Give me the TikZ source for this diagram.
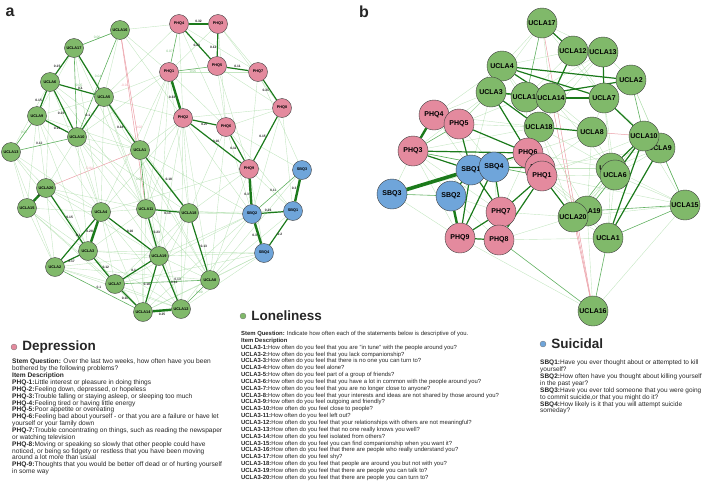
\documentclass[tikz,border=0pt]{standalone}
\usepackage{fontspec}
\setmainfont{Liberation Sans}
\usetikzlibrary{positioning}

\pgfdeclarelayer{edges}
\pgfsetlayers{edges,main}

\definecolor{deppink}{HTML}{E48A9E}
\definecolor{lonegreen}{HTML}{80B96A}
\definecolor{suiblue}{HTML}{6FA5DA}
\definecolor{edgedark}{HTML}{1B7A1B}
\definecolor{edgemid}{HTML}{45A345}
\definecolor{edgelight}{HTML}{9ED69A}
\definecolor{edgeneg}{HTML}{EBA0A8}

\tikzset{
  anode/.style={circle, draw=black!75, line width=0.4pt, minimum size=19pt, inner sep=0pt,
    font=\fontsize{3.8}{4}\selectfont\bfseries},
  bnode/.style={circle, draw=black!75, line width=0.4pt, minimum size=30pt, inner sep=0pt,
    font=\fontsize{7}{8}\selectfont\bfseries},
  dep/.style={fill=deppink},
  lone/.style={fill=lonegreen},
  sui/.style={fill=suiblue},
  faint/.style={draw=edgelight, line width=0.4pt, opacity=0.6},
  weak/.style={draw=edgemid, line width=0.6pt, opacity=0.85},
  strong/.style={draw=edgedark, line width=1.2pt},
  heavy/.style={draw=edgedark, line width=2.4pt},
  negative/.style={draw=edgeneg, line width=0.5pt},
  wlab/.style={font=\fontsize{3.3}{3.5}\selectfont\bfseries, text=black!85, inner sep=0.4pt},
  flab/.style={font=\fontsize{3.3}{3.5}\selectfont, text=edgemid!80, inner sep=0.4pt},
  nlab/.style={font=\fontsize{3.3}{3.5}\selectfont, text=edgeneg, inner sep=0.4pt},
  panel/.style={font=\fontsize{16}{18}\selectfont\bfseries, text=black!85},
  legdot/.style={circle, draw=black!55, line width=0.3pt, minimum size=6pt, inner sep=0pt},
  leghead/.style={font=\fontsize{13.5}{15}\selectfont\bfseries, anchor=west, inner sep=0pt, text=black!85},
  legtext/.style={font=\fontsize{#1}{6.85}\selectfont, anchor=north west, inner sep=0pt,
    align=left, text=black!85},
}
\newcommand{\itm}[1]{\textbf{#1}}

\begin{document}
\begin{tikzpicture}[x=1pt, y=-1pt]
\useasboundingbox (0,0) rectangle (706,482);

% panel labels
\node[panel] (pa) at (10,12) {a};
\node[panel] (pb) at (364,12) {b};

% ---- panel a: nodes
\node[anode, lone] (aU17) at (74,48)  {UCLA17};
\node[anode, lone] (aU16) at (120,30) {UCLA16};
\node[anode, lone] (aU6)  at (50,82)  {UCLA6};
\node[anode, lone] (aU5)  at (104,97) {UCLA5};
\node[anode, lone] (aU9)  at (37,116) {UCLA9};
\node[anode, lone] (aU10) at (77,137) {UCLA10};
\node[anode, lone] (aU13) at (11,152) {UCLA13};
\node[anode, lone] (aU20) at (46,188) {UCLA20};
\node[anode, lone] (aU15) at (27,208) {UCLA15};
\node[anode, lone] (aU1)  at (140,150) {UCLA1};
\node[anode, lone] (aU4)  at (101,212) {UCLA4};
\node[anode, lone] (aU11) at (146,209) {UCLA11};
\node[anode, lone] (aU18) at (189,213) {UCLA18};
\node[anode, lone] (aU3)  at (88,251) {UCLA3};
\node[anode, lone] (aU2)  at (55,267) {UCLA2};
\node[anode, lone] (aU19) at (159,256) {UCLA19};
\node[anode, lone] (aU7)  at (115,284) {UCLA7};
\node[anode, lone] (aU8)  at (210,280) {UCLA8};
\node[anode, lone] (aU14) at (143,312) {UCLA14};
\node[anode, lone] (aU12) at (181,309) {UCLA12};

\node[anode, dep] (aP4) at (179,24)  {PHQ4};
\node[anode, dep] (aP3) at (218,24)  {PHQ3};
\node[anode, dep] (aP1) at (169,72)  {PHQ1};
\node[anode, dep] (aP5) at (217,66)  {PHQ5};
\node[anode, dep] (aP7) at (258,72)  {PHQ7};
\node[anode, dep] (aP2) at (183,118) {PHQ2};
\node[anode, dep] (aP6) at (226,127) {PHQ6};
\node[anode, dep] (aP8) at (282,108) {PHQ8};
\node[anode, dep] (aP9) at (249,169) {PHQ9};

\node[anode, sui] (aS3) at (302,170) {SBQ3};
\node[anode, sui] (aS2) at (252,214) {SBQ2};
\node[anode, sui] (aS1) at (293,211) {SBQ1};
\node[anode, sui] (aS4) at (264,253) {SBQ4};

% ---- panel a: edges
\begin{pgfonlayer}{edges}
\foreach \u/\v in {aP1/aU16, aP1/aU5, aP1/aU1, aP1/aU18, aP1/aU10, aP1/aP3, aP1/aP7,
  aP1/aP6, aP1/aU11, aP2/aU1, aP2/aU18, aP2/aU4, aP2/aU19, aP2/aP8, aP2/aS2, aP3/aP7,
  aP3/aP8, aP5/aP8, aP5/aP6, aP6/aP8, aP6/aS3, aP6/aS1, aP7/aS3, aP8/aS1, aP9/aS1,
  aP9/aU18, aP9/aU8, aP6/aU18, aP6/aU8, aP4/aU5, aP4/aP2, aP4/aP6, aU17/aU16, aU17/aU9,
  aU17/aU1, aU6/aU9, aU6/aU13, aU6/aU1, aU6/aU20, aU5/aU9, aU5/aU4, aU5/aU11, aU5/aU18,
  aU9/aU13, aU9/aU20, aU9/aU4, aU9/aU15, aU10/aU20, aU10/aU4, aU10/aU11, aU10/aU1,
  aU13/aU20, aU13/aU15, aU13/aU2, aU20/aU4, aU20/aU2, aU15/aU2, aU15/aU3, aU15/aU7,
  aU1/aU11, aU1/aU19, aU1/aU8, aU4/aU11, aU4/aU7, aU11/aU3, aU11/aU8, aU11/aU14,
  aU18/aU19, aU18/aU12, aU3/aU19, aU3/aU14, aU3/aU12, aU2/aU7, aU2/aU12, aU19/aU8,
  aU7/aU12, aU8/aU14, aU8/aS4, aU19/aS2, aU12/aS4, aU14/aS2, aU1/aS2, aU7/aS2, aU3/aS4,
  aU4/aP9, aU16/aP4, aU16/aP2, aU16/aU5, aU5/aP2, aU18/aS2, aU8/aS1, aU12/aS2,
  aU10/aU3, aU10/aU19, aU10/aU18, aU9/aU1, aU9/aU3, aU6/aU4, aU6/aU11, aU17/aU11,
  aU17/aU4, aU13/aU4, aU13/aU3, aU20/aU11, aU20/aU19, aU20/aU7, aU15/aU4, aU15/aU14,
  aU2/aU19, aU2/aU8, aU4/aU14, aU4/aU12, aU1/aU14, aU1/aU12, aU18/aU14, aU18/aU7,
  aU11/aU12, aU5/aU19, aU5/aU8, aP1/aU4, aP1/aU19, aP2/aU11, aP2/aU8, aP3/aP6,
  aP4/aP7, aP5/aP9, aP7/aP9, aP8/aS2, aP9/aS4, aP6/aS2, aP2/aU12, aU19/aS4, aU14/aS4,
  aU7/aS4, aU11/aS2, aU18/aS1, aU8/aS3}
  \draw[faint] (\u) -- (\v);

\draw[negative] (aU16) -- node[nlab, pos=0.45, left] {-0.01} (aU1);
\draw[negative] (aU16) -- node[nlab, pos=0.55, right] {-0.02} (aU11);
\draw[negative] (aU20) -- node[nlab, pos=0.45, above] {-0.04} (aU1);

\draw[weak] (aU17) -- node[flab, above] {0.06} (aU16);
\draw[weak] (aU16) -- node[flab, pos=0.4, below left] {0.04} (aU10);
\draw[weak] (aP1) -- node[flab, pos=0.4, left] {0.07} (aP4);
\draw[weak] (aP1) -- node[flab, pos=0.5, below] {0.05} (aP5);
\draw[weak] (aU17) -- node[flab, pos=0.4, right] {0.05} (aU10);
\draw[weak] (aU9) -- node[flab, pos=0.5, above] {0.07} (aU13);
\draw[weak] (aS2) -- node[wlab, pos=0.5, above left] {0.11} (aS3);
\draw[weak] (aU8) -- node[wlab, pos=0.3, above] {0.13} (aU7);
\draw[weak] (aU12) -- node[flab, pos=0.5, above right] {0.09} (aU8);
\draw[weak] (aU2) -- node[wlab, pos=0.5, above] {0.1} (aU14);
\draw[weak] (aU11) -- node[flab, pos=0.5, left] {0.09} (aU1);

\draw[heavy] (aP4) -- node[wlab, above] {0.32} (aP3);
\draw[heavy] (aP1) -- node[wlab, pos=0.6, left] {0.33} (aP2);
\draw[strong] (aP2) -- node[wlab, pos=0.5, below] {0.27} (aP6);
\draw[strong] (aP7) -- node[wlab, pos=0.5, left] {0.21} (aP8);
\draw[strong] (aP4) -- node[wlab, pos=0.45, below] {0.23} (aP5);
\draw[strong] (aP3) -- node[wlab, pos=0.6, left] {0.12} (aP5);
\draw[strong] (aP5) -- node[wlab, pos=0.5, above] {0.11} (aP7);
\draw[strong] (aP6) -- node[wlab, pos=0.5, left] {0.11} (aP9);
\draw[strong] (aP8) -- node[wlab, pos=0.45, left] {0.15} (aP9);
\draw[strong] (aP2) -- node[wlab, pos=0.5, above] {0.16} (aP9);
\draw[heavy] (aP9) -- node[wlab, pos=0.6, left] {0.3} (aS2);
\draw[heavy] (aS3) -- node[wlab, pos=0.4, left] {0.3} (aS1);
\draw[strong] (aS2) -- node[wlab, pos=0.3, above] {0.26} (aS1);
\draw[heavy] (aS2) -- node[wlab, pos=0.6, left] {0.3} (aS4);
\draw[strong] (aS1) -- node[wlab, pos=0.6, right] {0.2} (aS4);

\draw[strong] (aU17) -- node[wlab, pos=0.55, left] {0.15} (aU6);
\draw[strong] (aU17) -- (aU5);
\draw[strong] (aU6) -- node[wlab, pos=0.6, left] {0.15} (aU10);
\draw[strong] (aU6) -- node[wlab, pos=0.6, above] {0.1} (aU5);
\draw[strong] (aU9) -- node[wlab, pos=0.4, left] {0.15} (aU6);
\draw[strong] (aU5) -- node[wlab, pos=0.45, left] {0.1} (aU10);
\draw[strong] (aU9) -- node[wlab, pos=0.5, below] {0.11} (aU10);
\draw[weak] (aU13) -- node[wlab, pos=0.4, above] {0.12} (aU10);
\draw[strong] (aU5) -- node[wlab, pos=0.6, left] {0.18} (aU1);
\draw[heavy] (aU20) -- node[wlab, pos=0.5, above right] {0.4} (aU15);
\draw[strong] (aU20) -- node[wlab, pos=0.45, right] {0.15} (aU3);
\draw[heavy] (aU4) -- node[wlab, pos=0.5, left] {0.28} (aU3);
\draw[strong] (aU3) -- node[wlab, pos=0.5, below] {0.17} (aU2);
\draw[strong] (aU2) -- node[wlab, pos=0.6, left] {0.1} (aU4);
\draw[strong] (aU3) -- node[wlab, pos=0.5, right] {0.12} (aU7);
\draw[strong] (aU11) -- node[wlab, pos=0.5, below] {0.13} (aU18);
\draw[strong] (aU1) -- node[wlab, pos=0.5, above right] {0.18} (aU18);
\draw[strong] (aU18) -- node[wlab, pos=0.5, right] {0.13} (aU8);
\draw[strong] (aU4) -- node[wlab, pos=0.5, above] {0.16} (aU19);
\draw[strong] (aU11) -- node[wlab, pos=0.5, right] {0.23} (aU19);
\draw[strong] (aU19) -- node[wlab, pos=0.5, left] {0.18} (aU14);
\draw[strong] (aU19) -- node[wlab, pos=0.5, right] {0.13} (aU12);
\draw[strong] (aU7) -- node[wlab, pos=0.5, left] {0.1} (aU19);
\draw[heavy] (aU14) -- node[wlab, pos=0.5, below=1.5pt] {0.25} (aU12);
\draw[strong] (aU7) -- node[wlab, pos=0.5, left] {0.11} (aU14);
\end{pgfonlayer}

% ---- panel b: nodes
\node[bnode, lone] (bU17) at (542,23)  {UCLA17};
\node[bnode, lone] (bU12) at (573,51)  {UCLA12};
\node[bnode, lone] (bU13) at (603,52)  {UCLA13};
\node[bnode, lone] (bU4)  at (502,66)  {UCLA4};
\node[bnode, lone] (bU2)  at (631,80)  {UCLA2};
\node[bnode, lone] (bU3)  at (491,92)  {UCLA3};
\node[bnode, lone] (bU11) at (526,97)  {UCLA11};
\node[bnode, lone] (bU14) at (551,98)  {UCLA14};
\node[bnode, lone] (bU7)  at (604,98)  {UCLA7};
\node[bnode, lone] (bU18) at (539,127) {UCLA18};
\node[bnode, lone] (bU8)  at (592,132) {UCLA8};
\node[bnode, lone] (bU9)  at (660,148) {UCLA9};
\node[bnode, lone] (bU10) at (644,136) {UCLA10};
\node[bnode, lone] (bU5)  at (611,168) {UCLA5};
\node[bnode, lone] (bU6)  at (615,175) {UCLA6};
\node[bnode, lone] (bU19) at (587,211) {UCLA19};
\node[bnode, lone] (bU20) at (573,217) {UCLA20};
\node[bnode, lone] (bU15) at (685,205) {UCLA15};
\node[bnode, lone] (bU1)  at (608,238) {UCLA1};
\node[bnode, lone] (bU16) at (593,311) {UCLA16};

\node[bnode, dep] (bP4) at (434,115) {PHQ4};
\node[bnode, dep] (bP5) at (459,124) {PHQ5};
\node[bnode, dep] (bP3) at (413,151) {PHQ3};
\node[bnode, dep] (bP6) at (528,153) {PHQ6};
\node[bnode, dep] (bP2) at (540,168) {PHQ2};
\node[bnode, dep] (bP1) at (542,176) {PHQ1};
\node[bnode, dep] (bP7) at (501,212) {PHQ7};
\node[bnode, dep] (bP9) at (460,238) {PHQ9};
\node[bnode, dep] (bP8) at (499,240) {PHQ8};

\node[bnode, sui] (bS3) at (392,194) {SBQ3};
\node[bnode, sui] (bS1) at (471,170) {SBQ1};
\node[bnode, sui] (bS4) at (494,167) {SBQ4};
\node[bnode, sui] (bS2) at (451,196) {SBQ2};

% ---- panel b: edges
\begin{pgfonlayer}{edges}
\foreach \u/\v in {bP4/bS1, bP4/bP5, bP4/bU3, bP4/bU4, bP5/bU3, bP5/bU11, bP5/bS4,
  bP3/bS2, bP3/bS4, bP3/bP9, bP3/bP7, bP3/bU18, bP3/bU3, bS3/bP9, bS3/bS4, bS3/bP3,
  bS2/bP7, bS2/bP8, bS2/bS4, bS4/bP6, bS4/bP1, bS4/bP8, bP6/bP7, bP6/bU11, bP6/bU14,
  bP6/bU8, bP6/bU5, bP2/bU19, bP2/bU5, bP2/bU8, bP1/bU19, bP1/bU1, bP1/bU15, bP1/bU6,
  bP7/bU20, bP8/bU20, bP8/bU1, bP9/bU16, bU17/bU4, bU17/bU13, bU17/bU14, bU17/bU7,
  bU17/bU3, bU12/bU13, bU12/bU4, bU12/bU7, bU12/bU11, bU12/bU18, bU13/bU2, bU13/bU14,
  bU13/bU11, bU13/bU18, bU4/bU3, bU4/bU11, bU4/bU18, bU3/bU11, bU3/bP6, bU11/bU14,
  bU11/bU7, bU11/bU8, bU14/bU18, bU14/bU8, bU14/bU5, bU7/bU8, bU7/bU2, bU7/bU9,
  bU7/bU5, bU7/bU6, bU2/bU9, bU2/bU15, bU18/bU5, bU18/bU19, bU18/bU20, bU8/bU6,
  bU8/bU19, bU10/bU9, bU10/bU15, bU10/bU19, bU10/bU20, bU9/bU5, bU9/bU6, bU5/bU19,
  bU5/bU1, bU5/bU15, bU6/bU15, bU6/bU20, bU6/bU1, bU19/bU1, bU20/bU1, bU20/bU15,
  bU19/bU16, bU15/bU16, bU3/bS1, bU3/bP5, bP5/bU18, bP4/bU18, bP1/bU10, bP2/bU9}
  \draw[faint] (\u) -- (\v);

\draw[negative] (bU17) -- (bU16);
\draw[negative] (bU14) -- (bU16);
\draw[negative] (bU8) -- (bU10);
\draw[negative] (bU20) -- (bU16);

\draw[weak] (bP8) -- (bU16);
\draw[weak] (bU1) -- (bU16);
\draw[weak] (bU19) -- (bU15);
\draw[weak] (bU1) -- (bU15);
\draw[weak] (bU5) -- (bU20);
\draw[weak] (bU6) -- (bU19);
\draw[weak] (bU17) -- (bU11);
\draw[weak] (bU2) -- (bU10);
\draw[weak] (bS3) -- (bS2);
\draw[weak] (bP3) -- (bP1);
\draw[weak] (bP3) -- (bP5);
\draw[weak] (bU9) -- (bU15);
\draw[weak] (bU3) -- (bU11);

\draw[heavy] (bP4) -- (bP3);
\draw[heavy, line width=3.6pt] (bS3) -- (bS1);
\draw[heavy] (bS2) -- (bP9);
\draw[strong] (bS1) -- (bP3);
\draw[strong] (bS1) -- (bP5);
\draw[strong] (bS1) -- (bP6);
\draw[strong] (bS4) -- (bP2);
\draw[strong] (bS2) -- (bS1);
\draw[strong] (bS1) -- (bP7);
\draw[strong] (bS4) -- (bP7);
\draw[strong] (bP9) -- (bP7);
\draw[strong] (bP9) -- (bP8);
\draw[strong] (bP7) -- (bP1);
\draw[strong] (bP8) -- (bP1);
\draw[strong] (bP5) -- (bP6);
\draw[strong] (bP3) -- (bP6);
\draw[strong] (bP9) -- (bS1);
\draw[strong] (bP9) -- (bS4);
\draw[strong] (bU4) -- (bU2);
\draw[strong] (bU4) -- (bU14);
\draw[strong] (bU4) -- (bU7);
\draw[strong] (bU3) -- (bU18);
\draw[strong] (bU3) -- (bU14);
\draw[strong] (bU12) -- (bU14);
\draw[heavy] (bU14) -- (bU7);
\draw[strong] (bU17) -- (bU12);
\draw[strong] (bU13) -- (bU7);
\draw[strong] (bU11) -- (bU2);
\draw[strong] (bU7) -- (bU10);
\draw[strong] (bU18) -- (bU8);
\draw[strong] (bU10) -- (bU5);
\draw[strong] (bU10) -- (bU6);
\draw[strong] (bU9) -- (bU1);
\draw[strong] (bU10) -- (bU1);
\draw[strong] (bP6) -- (bU18);
\draw[strong] (bP1) -- (bU20);
\draw[strong] (bU3) -- (bP6);
\end{pgfonlayer}

% ---- legend
\node[legdot, fill=deppink] (ddot) at (14,347) {};
\node[leghead, right=5pt of ddot] (dhead) {Depression};
\node[legtext=6.6] (dtext) at (12,359) {%
\itm{Stem Question:} Over the last two weeks, how often have you been\\
bothered by the following problems?\\
\itm{Item Description}\\
\itm{PHQ-1:}Little interest or pleasure in doing things\\
\itm{PHQ-2:}Feeling down, depressed, or hopeless\\
\itm{PHQ-3:}Trouble falling or staying asleep, or sleeping too much\\
\itm{PHQ-4:}Feeling tired or having little energy\\
\itm{PHQ-5:}Poor appetite or overeating\\
\itm{PHQ-6:}Feeling bad about yourself - or that you are a failure or have let\\
yourself or your family down\\
\itm{PHQ-7:}Trouble concentrating on things, such as reading the newspaper\\
or watching television\\
\itm{PHQ-8:}Moving or speaking so slowly that other people could have\\
noticed, or being so fidgety or restless that you have been moving\\
around a lot more than usual\\
\itm{PHQ-9:}Thoughts that you would be better off dead or of hurting yourself\\
in some way};

\node[legdot, fill=lonegreen] (ldot) at (243,316) {};
\node[leghead, right=5pt of ldot] (lhead) {Loneliness};
\node[legtext=5.9] (ltext) at (241,331) {%
\itm{Stem Question:} Indicate how often each of the statements below is descriptive of you.\\
\itm{Item Description}\\
\itm{UCLA3-1:}How often do you feel that you are "in tune" with the people around you?\\
\itm{UCLA3-2:}How often do you feel that you lack companionship?\\
\itm{UCLA3-3:}How often do you feel that there is no one you can turn to?\\
\itm{UCLA3-4:}How often do you feel alone?\\
\itm{UCLA3-5:}How often do you feel part of a group of friends?\\
\itm{UCLA3-6:}How often do you feel that you have a lot in common with the people around you?\\
\itm{UCLA3-7:}How often do you feel that you are no longer close to anyone?\\
\itm{UCLA3-8:}How often do you feel that your interests and ideas are not shared by those around you?\\
\itm{UCLA3-9:}How often do you feel outgoing and friendly?\\
\itm{UCLA3-10:}How often do you feel close to people?\\
\itm{UCLA3-11:}How often do you feel left out?\\
\itm{UCLA3-12:}How often do you feel that your relationships with others are not meaningful?\\
\itm{UCLA3-13:}How often do you feel that no one really knows you well?\\
\itm{UCLA3-14:}How often do you feel isolated from others?\\
\itm{UCLA3-15:}How often do you feel you can find companionship when you want it?\\
\itm{UCLA3-16:}How often do you feel that there are people who really understand you?\\
\itm{UCLA3-17:}How often do you feel shy?\\
\itm{UCLA3-18:}How often do you feel that people are around you but not with you?\\
\itm{UCLA3-19:}How often do you feel that there are people you can talk to?\\
\itm{UCLA3-20:}How often do you feel that there are people you can turn to?};

\node[legdot, fill=suiblue] (sdot) at (543,344) {};
\node[leghead, right=5pt of sdot] (shead) {Suicidal};
\node[legtext=6.5] (stext) at (540,360) {%
\itm{SBQ1:}Have you ever thought about or attempted to kill\\
yourself?\\
\itm{SBQ2:}How often have you thought about killing yourself\\
in the past year?\\
\itm{SBQ3:}Have you ever told someone that you were going\\
to commit suicide,or that you might do it?\\
\itm{SBQ4:}How likely is it that you will attempt suicide\\
someday?};
\end{tikzpicture}
\end{document}
